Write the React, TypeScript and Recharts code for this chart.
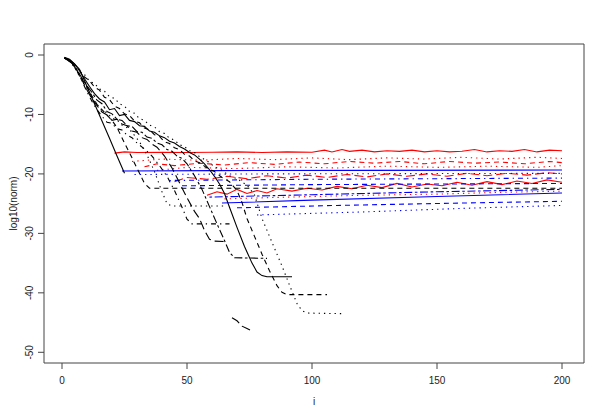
import { LineChart, Line, XAxis, YAxis, ReferenceArea, Label } from 'recharts';

type Pt = [number, number];

// black: convergence curves, each drops off the fan and stalls
const blackSolidA: Pt[] = [[1, -0.5], [3, -0.8], [5, -1.5], [7, -2.4], [10, -5.3], [13, -8.2], [16, -11.1], [19, -14.0], [22, -17.0], [25, -19.9]];
const blackSolidB: Pt[] = [[1, -0.4], [3, -0.7], [5, -1.5], [7, -2.6], [9, -4.0], [11, -5.3], [13, -6.5], [15, -7.4], [17, -7.9], [19, -9.2], [21, -9.0], [23, -10.2], [25, -10.0], [27, -11.0], [29, -11.2], [31, -11.9], [33, -12.0], [35, -12.8], [37, -13.0], [39, -13.6], [41, -13.9], [43, -14.5], [45, -14.8], [47, -15.4], [49, -15.8], [51, -16.4], [53, -16.8], [55, -17.5], [57, -18.3], [59, -19.3], [61, -20.4], [63, -21.7], [65, -23.3], [67, -25.6], [70, -29.0], [73, -32.2], [76, -35.0], [78, -36.5], [80, -37.1], [82, -37.3], [92, -37.3]];
const blackDashed1: Pt[] = [[1, -0.5], [4, -1.4], [6, -2.6], [8, -4.0], [10, -5.4], [12, -6.9], [14, -8.3], [16, -9.2], [18, -10.1], [20, -11.0], [22, -12.2], [25, -14.8], [28, -17.3], [31, -19.9], [33, -21.6], [35, -22.4], [200, -22.4]];
const blackDashed2: Pt[] = [[1, -0.5], [3, -0.9], [5, -1.8], [7, -2.6], [9, -3.7], [11, -4.3], [13, -5.4], [15, -5.9], [17, -7.1], [19, -7.5], [21, -8.6], [23, -9.0], [25, -9.9], [27, -10.2], [29, -11.1], [31, -11.4], [33, -12.3], [35, -12.6], [37, -13.4], [39, -13.7], [41, -14.6], [43, -14.9], [45, -15.6], [47, -15.9], [49, -16.7], [51, -17.0], [53, -17.8], [55, -18.1], [58, -19.0], [61, -19.6], [64, -20.6], [67, -21.3], [70, -22.8], [72, -24.8], [74, -27.5], [77, -30.5], [80, -33.5], [83, -36.3], [86, -38.8], [88, -39.9], [90, -40.3], [106, -40.3]];
const blackDotted1: Pt[] = [[1, -0.5], [4, -1.4], [6, -2.8], [8, -4.3], [10, -5.8], [12, -7.2], [14, -8.3], [16, -9.4], [18, -9.7], [20, -10.6], [22, -10.9], [24, -11.8], [26, -12.2], [28, -13.0], [31, -14.6], [34, -16.8], [37, -19.6], [40, -23.0], [42, -25.0], [44, -25.4], [66, -25.4]];
const blackDotted2: Pt[] = [[1, -0.5], [3, -1.0], [5, -2.0], [7, -2.9], [9, -3.3], [11, -4.4], [13, -4.8], [15, -5.7], [17, -6.1], [19, -7.0], [21, -7.3], [23, -8.2], [25, -8.6], [27, -9.5], [29, -9.8], [31, -10.7], [33, -11.0], [35, -11.8], [37, -12.1], [39, -12.9], [41, -13.2], [43, -14.0], [45, -14.3], [47, -15.1], [49, -15.4], [51, -16.1], [53, -16.4], [55, -17.1], [58, -17.8], [61, -18.8], [64, -19.4], [67, -20.3], [70, -20.8], [74, -21.9], [77, -23.5], [80, -27.5], [84, -31.5], [88, -35.5], [91, -38.7], [94, -41.8], [96, -43.0], [98, -43.4], [112, -43.5]];
const blackDotDash: Pt[] = [[1, -0.5], [4, -1.4], [6, -2.7], [8, -4.4], [10, -6.2], [12, -7.8], [14, -9.2], [16, -10.3], [18, -11.3], [20, -11.5], [22, -12.4], [24, -12.6], [26, -13.5], [28, -13.9], [30, -14.8], [33, -15.8], [36, -17.0], [39, -18.6], [42, -20.4], [45, -22.8], [48, -25.6], [50, -27.6], [52, -28.4], [67, -28.4]];
const blackLongDash: Pt[] = [[1, -0.5], [4, -1.3], [6, -2.6], [8, -4.2], [10, -5.9], [12, -7.4], [14, -8.5], [16, -9.6], [18, -10.1], [20, -11.0], [22, -10.8], [24, -11.6], [26, -11.9], [28, -12.8], [30, -13.0], [32, -13.9], [34, -14.2], [36, -15.0], [38, -15.5], [41, -17.0], [44, -19.0], [47, -21.5], [50, -24.0], [53, -26.3], [55, -27.5], [57, -29.5], [59, -31.0], [61, -31.3], [66, -31.4]];
const blackTwoDash: Pt[] = [[1, -0.5], [4, -1.3], [6, -2.5], [8, -3.9], [10, -5.2], [12, -6.3], [14, -7.6], [16, -8.2], [18, -9.5], [20, -9.9], [22, -10.8], [24, -11.0], [26, -11.9], [28, -12.0], [30, -12.9], [32, -13.0], [34, -13.8], [36, -14.0], [38, -14.8], [40, -15.1], [42, -15.9], [44, -16.2], [46, -17.0], [48, -17.4], [50, -18.3], [53, -20.3], [56, -22.6], [59, -25.5], [62, -28.4], [65, -31.2], [67, -33.2], [69, -34.1], [82, -34.2]];
const blackStray: Pt[] = [[68, -44.2], [70, -44.7], [72, -45.6], [74, -46.0], [76, -46.4]];

// red: stagnation levels
const redSolid1: Pt[] = [[21, -16.5], [25, -16.3], [30, -16.4], [40, -16.35], [50, -16.4], [60, -16.35], [70, -16.3], [80, -16.4], [90, -16.3], [100, -16.35], [105, -16.0], [108, -16.3], [112, -15.9], [115, -16.2], [120, -16.0], [125, -16.3], [130, -16.1], [135, -16.2], [140, -16.0], [145, -16.3], [150, -16.1], [155, -16.3], [160, -16.2], [165, -15.9], [170, -16.3], [175, -16.1], [180, -16.2], [185, -15.9], [190, -16.3], [195, -16.0], [200, -16.1]];
const redDotted1: Pt[] = [[28, -17.9], [40, -17.5], [55, -17.7], [70, -17.4], [85, -17.6], [100, -17.3], [115, -17.6], [130, -17.3], [145, -17.5], [160, -17.2], [175, -17.5], [190, -17.2], [200, -17.4]];
const redDashed1: Pt[] = [[33, -18.8], [38, -18.3], [45, -18.6], [55, -18.2], [65, -18.5], [75, -18.1], [85, -18.4], [95, -18.0], [105, -18.3], [115, -17.9], [125, -18.2], [135, -17.9], [145, -18.3], [155, -17.9], [165, -18.2], [175, -18.0], [185, -18.3], [195, -17.9], [200, -18.1]];
const redDotted2: Pt[] = [[38, -19.4], [50, -18.9], [70, -19.1], [90, -18.8], [110, -19.0], [130, -18.7], [150, -18.9], [170, -18.7], [190, -18.9], [200, -18.6]];
const redDashed2: Pt[] = [[45, -21.3], [50, -20.6], [58, -20.9], [66, -20.4], [74, -20.8], [82, -20.3], [90, -20.7], [98, -20.2], [106, -20.6], [114, -20.1], [122, -20.5], [130, -20.0], [138, -20.4], [146, -20.0], [154, -20.4], [162, -19.9], [170, -20.3], [178, -19.9], [186, -20.2], [194, -19.8], [200, -20.0]];
const redSolid2: Pt[] = [[58, -23.6], [62, -23.0], [66, -23.4], [70, -22.6], [74, -23.3], [78, -22.8], [82, -23.2], [86, -22.5], [92, -22.9], [98, -22.4], [104, -22.7], [110, -22.1], [116, -22.5], [122, -21.9], [128, -22.3], [134, -21.6], [140, -22.2], [146, -21.7], [152, -22.0], [158, -21.4], [164, -21.9], [170, -21.3], [176, -21.8], [182, -21.2], [188, -21.6], [194, -21.0], [200, -21.4]];
const redDotted3: Pt[] = [[65, -24.2], [90, -23.9], [120, -23.6], [150, -23.4], [175, -23.1], [200, -22.9]];

// blue: stagnation levels
const blueSolid1: Pt[] = [[24, -19.5], [60, -19.45], [120, -19.4], [200, -19.35]];
const blueDotted1: Pt[] = [[29, -20.1], [80, -20.0], [140, -19.95], [200, -19.9]];
const blueDotDash1: Pt[] = [[43, -21.1], [100, -20.9], [150, -20.8], [200, -20.7]];
const blueDashed1: Pt[] = [[48, -22.0], [100, -21.8], [150, -21.7], [200, -21.6]];
const blueDotDash2: Pt[] = [[59, -23.9], [100, -23.5], [150, -23.0], [200, -22.6]];
const blueSolid2: Pt[] = [[64, -24.9], [100, -24.4], [150, -23.8], [200, -23.2]];
const blueDashed2: Pt[] = [[70, -25.7], [110, -25.3], [160, -24.9], [200, -24.6]];
const blueDotted2: Pt[] = [[78, -26.9], [120, -26.4], [160, -25.8], [200, -25.3]];

const xTicks = [0, 50, 100, 150, 200];
const yTicks = [-50, -40, -30, -20, -10, 0];

const LTY: Record<string, string | undefined> = {
  solid: undefined,
  dashed: '5 4',
  dotted: '1.3 4',
  dotdash: '1.3 4 5 4',
  longdash: '9 4',
  twodash: '2.6 2.6 8 2.6',
};

const series: { data: Pt[]; color: string; lty: string }[] = [
  { data: redSolid1, color: '#ff0000', lty: 'solid' },
  { data: redDotted1, color: '#ff0000', lty: 'dotted' },
  { data: redDashed1, color: '#ff0000', lty: 'dashed' },
  { data: redDotted2, color: '#ff0000', lty: 'dotted' },
  { data: redDashed2, color: '#ff0000', lty: 'longdash' },
  { data: redSolid2, color: '#ff0000', lty: 'solid' },
  { data: redDotted3, color: '#ff0000', lty: 'dotted' },
  { data: blueSolid1, color: '#0000ff', lty: 'solid' },
  { data: blueDotted1, color: '#0000ff', lty: 'dotted' },
  { data: blueDotDash1, color: '#0000ff', lty: 'dotdash' },
  { data: blueDashed1, color: '#0000ff', lty: 'dashed' },
  { data: blueDotDash2, color: '#0000ff', lty: 'twodash' },
  { data: blueSolid2, color: '#0000ff', lty: 'solid' },
  { data: blueDashed2, color: '#0000ff', lty: 'dashed' },
  { data: blueDotted2, color: '#0000ff', lty: 'dotted' },
  { data: blackSolidA, color: '#000', lty: 'solid' },
  { data: blackSolidB, color: '#000', lty: 'solid' },
  { data: blackDashed1, color: '#000', lty: 'dashed' },
  { data: blackDashed2, color: '#000', lty: 'dashed' },
  { data: blackDotted1, color: '#000', lty: 'dotted' },
  { data: blackDotted2, color: '#000', lty: 'dotted' },
  { data: blackDotDash, color: '#000', lty: 'dotdash' },
  { data: blackLongDash, color: '#000', lty: 'longdash' },
  { data: blackTwoDash, color: '#000', lty: 'twodash' },
  { data: blackStray, color: '#000', lty: 'longdash' },
];

const FONT = '"Liberation Sans", Arial, Helvetica, sans-serif';
const X_DOMAIN: [number, number] = [-7.2, 208.8];
const Y_DOMAIN: [number, number] = [-51.8, 1.85];

const YTick = ({ x, y, payload }: any) => (
  <text x={x} y={y} transform={`rotate(-90 ${x} ${y})`} textAnchor="middle" fontSize={10} fill="#222" fontFamily={FONT}>
    {payload.value}
  </text>
);

export default function App() {
  return (
    <div style={{ position: 'absolute', left: 0, top: 0, background: '#fff' }}>
      <LineChart width={604} height={419} margin={{ top: 44, right: 20, left: 0, bottom: 0 }}>
        <XAxis
          type="number"
          dataKey="x"
          domain={X_DOMAIN}
          ticks={xTicks}
          allowDataOverflow
          axisLine={false}
          tickLine={{ stroke: '#444' }}
          tickSize={6}
          tickMargin={8}
          height={56}
          tick={{ fontSize: 10, fill: '#222', fontFamily: FONT }}
        >
          <Label
            content={({ viewBox }: any) => (
              <text x={viewBox.x + viewBox.width / 2} y={viewBox.y + viewBox.height - 14} textAnchor="middle" fontSize={10} fill="#222" fontFamily={FONT}>
                i
              </text>
            )}
          />
        </XAxis>
        <YAxis
          type="number"
          domain={Y_DOMAIN}
          ticks={yTicks}
          allowDataOverflow
          axisLine={false}
          tickLine={{ stroke: '#444' }}
          tickSize={6}
          tickMargin={5}
          width={44}
          tick={<YTick />}
        >
          <Label
            content={({ viewBox }: any) => {
              const cx = viewBox.x + 17;
              const cy = viewBox.y + viewBox.height / 2;
              return (
                <text x={cx} y={cy} transform={`rotate(-90 ${cx} ${cy})`} textAnchor="middle" fontSize={10} fill="#222" fontFamily={FONT}>
                  log10(norm)
                </text>
              );
            }}
          />
        </YAxis>
        {series.map((s, i) => (
          <Line
            key={i}
            data={s.data.map(([x, y]) => ({ x, y }))}
            dataKey="y"
            type="linear"
            stroke={s.color}
            strokeWidth={1.1}
            strokeDasharray={LTY[s.lty]}
            dot={false}
            activeDot={false}
            isAnimationActive={false}
          />
        ))}
        <ReferenceArea x1={X_DOMAIN[0]} x2={X_DOMAIN[1]} y1={Y_DOMAIN[0]} y2={Y_DOMAIN[1]} fill="none" stroke="#444" strokeWidth={1} ifOverflow="visible" />
      </LineChart>
    </div>
  );
}
